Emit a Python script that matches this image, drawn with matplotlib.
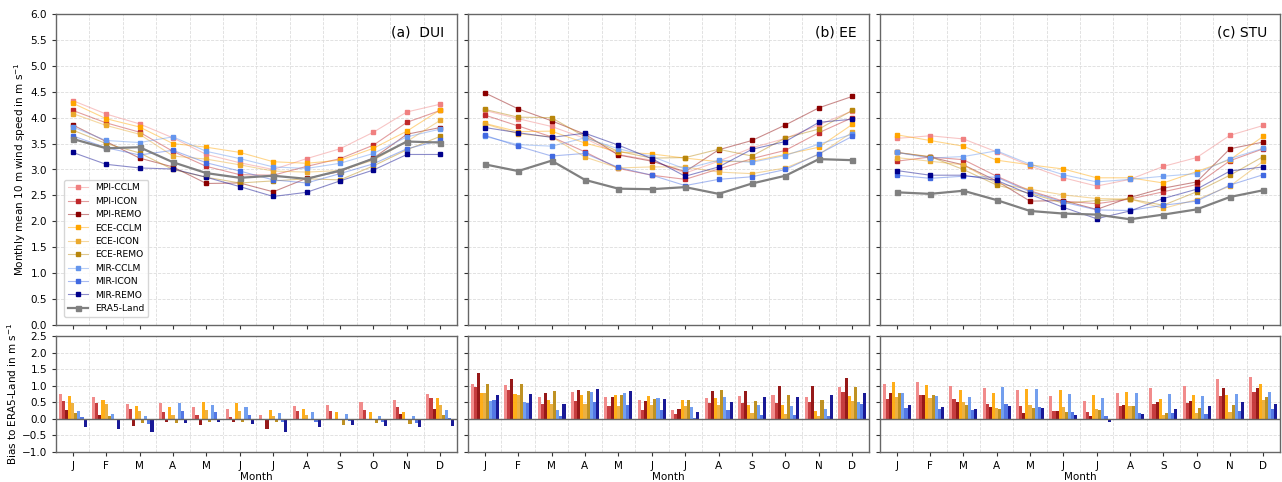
import numpy as np
import matplotlib
matplotlib.use("Agg")
import matplotlib.pyplot as plt
from matplotlib.colors import to_rgba

# month labels and simulations
months = ["J", "F", "M", "A", "M", "J", "J", "A", "S", "O", "N", "D"]
models = ["MPI-CCLM", "MPI-ICON", "MPI-REMO",
          "ECE-CCLM", "ECE-ICON", "ECE-REMO",
          "MIR-CCLM", "MIR-ICON", "MIR-REMO"]
colors = ["#f08080", "#c0282a", "#8b0000",
          "#ffa500", "#eaa92e", "#b8860b",
          "#6495ed", "#4169e1", "#00008b"]
sites = ["(a)  DUI", "(b) EE", "(c) STU"]

# ERA5-Land monthly mean 10 m wind speed (m/s)
era5_dui = [3.59, 3.41, 3.43, 3.14, 2.93, 2.84, 2.88, 2.82, 2.98, 3.21, 3.54, 3.52]
era5_ee = [3.10, 2.97, 3.17, 2.80, 2.63, 2.62, 2.66, 2.53, 2.73, 2.88, 3.20, 3.18]
era5_stu = [2.56, 2.53, 2.59, 2.41, 2.20, 2.15, 2.13, 2.04, 2.13, 2.23, 2.47, 2.60]

# bias of each simulation to ERA5-Land (rows follow "models")
bias_dui = [
    [0.74, 0.66, 0.45, 0.47, 0.36, 0.29, 0.12, 0.39, 0.42, 0.51, 0.57, 0.74],
    [0.55, 0.49, 0.29, 0.21, 0.13, 0.06, 0.01, 0.24, 0.23, 0.26, 0.37, 0.62],
    [0.27, 0.13, -0.21, -0.09, -0.20, -0.10, -0.31, 0.01, -0.02, 0.01, 0.14, 0.29],
    [0.69, 0.57, 0.39, 0.36, 0.50, 0.49, 0.27, 0.30, 0.20, 0.20, 0.20, 0.63],
    [0.49, 0.44, 0.25, 0.12, 0.27, 0.25, 0.09, 0.13, 0.00, -0.03, 0.00, 0.43],
    [0.17, 0.09, -0.11, -0.14, -0.08, -0.10, -0.10, 0.00, -0.18, -0.14, -0.16, 0.12],
    [0.23, 0.15, 0.09, 0.49, 0.42, 0.37, 0.17, 0.20, 0.14, 0.10, 0.09, 0.26],
    [0.06, 0.01, -0.15, 0.23, 0.20, 0.13, -0.08, -0.08, -0.06, -0.10, -0.14, 0.04],
    [-0.26, -0.31, -0.40, -0.13, -0.08, -0.17, -0.40, -0.26, -0.20, -0.22, -0.25, -0.23],
]
bias_ee = [
    [1.04, 1.01, 0.66, 0.80, 0.66, 0.56, 0.27, 0.63, 0.69, 0.72, 0.66, 0.95],
    [0.95, 0.87, 0.46, 0.54, 0.39, 0.27, 0.15, 0.48, 0.48, 0.49, 0.51, 0.82],
    [1.38, 1.20, 0.77, 0.88, 0.65, 0.54, 0.30, 0.85, 0.83, 0.98, 0.99, 1.23],
    [0.79, 0.76, 0.57, 0.71, 0.71, 0.68, 0.56, 0.62, 0.43, 0.41, 0.23, 0.69],
    [0.78, 0.72, 0.46, 0.44, 0.40, 0.43, 0.39, 0.42, 0.19, 0.15, 0.09, 0.54],
    [1.06, 1.04, 0.83, 0.83, 0.72, 0.60, 0.57, 0.86, 0.53, 0.73, 0.58, 0.96],
    [0.54, 0.51, 0.28, 0.81, 0.77, 0.63, 0.35, 0.65, 0.41, 0.39, 0.29, 0.50],
    [0.56, 0.48, 0.09, 0.51, 0.41, 0.27, 0.03, 0.28, 0.13, 0.12, 0.10, 0.46],
    [0.71, 0.74, 0.45, 0.90, 0.84, 0.59, 0.21, 0.52, 0.66, 0.66, 0.71, 0.79],
]
bias_stu = [
    [1.04, 1.12, 1.00, 0.93, 0.87, 0.69, 0.55, 0.77, 0.93, 1.00, 1.19, 1.25],
    [0.60, 0.71, 0.60, 0.46, 0.39, 0.24, 0.21, 0.39, 0.44, 0.48, 0.70, 0.80],
    [0.77, 0.71, 0.50, 0.37, 0.19, 0.25, 0.10, 0.42, 0.51, 0.53, 0.93, 0.93],
    [1.11, 1.03, 0.86, 0.77, 0.89, 0.86, 0.71, 0.80, 0.61, 0.73, 0.72, 1.04],
    [0.67, 0.63, 0.50, 0.32, 0.42, 0.36, 0.31, 0.39, 0.12, 0.19, 0.21, 0.56],
    [0.77, 0.72, 0.41, 0.29, 0.34, 0.20, 0.27, 0.39, 0.18, 0.34, 0.42, 0.65],
    [0.77, 0.69, 0.66, 0.95, 0.90, 0.75, 0.63, 0.77, 0.74, 0.69, 0.74, 0.81],
    [0.33, 0.30, 0.28, 0.44, 0.37, 0.22, 0.09, 0.17, 0.18, 0.16, 0.23, 0.30],
    [0.42, 0.36, 0.30, 0.38, 0.32, 0.12, -0.08, 0.16, 0.31, 0.39, 0.50, 0.45],
]

era5_all = [era5_dui, era5_ee, era5_stu]
bias_all = [bias_dui, bias_ee, bias_stu]

W, H = 1282, 482
fig = plt.figure(figsize=(W / 100, H / 100), dpi=100)

# panel placement in pixels: left, right
cols = [(56, 457), (468, 869), (880, 1280)]
top_box = (14, 325)
bot_box = (336, 452)

spine_col = "#666666"
x = np.arange(12)
bar_w = 0.093


def style_axis(ax):
    for s in ax.spines.values():
        s.set_color(spine_col)
        s.set_linewidth(1.0)
    ax.tick_params(axis="both", colors="#333333", labelsize=7.5, length=3, width=0.8,
                   labelcolor="black")
    ax.set_xlim(-0.5, 11.5)
    ax.set_xticks(x)
    ax.set_xticks(np.arange(-0.5, 12, 1), minor=True)
    ax.tick_params(axis="x", which="minor", length=0)
    ax.grid(True, axis="y", which="major", color="#dddddd", linestyle="--", linewidth=0.6)
    ax.grid(True, axis="x", which="minor", color="#dddddd", linestyle="--", linewidth=0.6)
    ax.set_axisbelow(True)


for i in range(3):
    l, r = cols[i]
    ax1 = fig.add_axes([l / W, (H - top_box[1]) / H, (r - l) / W, (top_box[1] - top_box[0]) / H])
    ax2 = fig.add_axes([l / W, (H - bot_box[1]) / H, (r - l) / W, (bot_box[1] - bot_box[0]) / H])
    style_axis(ax1)
    style_axis(ax2)

    era5 = np.array(era5_all[i])
    bias = np.array(bias_all[i])

    # monthly mean wind speed
    for m in range(9):
        ax1.plot(x, era5 + bias[m], color=to_rgba(colors[m], 0.45), linewidth=0.8,
                 marker="s", markersize=2.2, markerfacecolor=colors[m],
                 markeredgecolor=colors[m], label=models[m])
    ax1.plot(x, era5, color="grey", linewidth=1.6, marker="s", markersize=3.6,
             label="ERA5-Land")
    ax1.set_ylim(0, 6)
    ax1.set_yticks(np.arange(0, 6.01, 0.5))
    ax1.set_xticklabels([])
    ax1.text(0.969, 0.939, sites[i], transform=ax1.transAxes, ha="right", va="center",
             fontsize=10)

    # bias bars
    for m in range(9):
        ax2.bar(x + (m - 4) * bar_w, bias[m], width=bar_w, color=colors[m], alpha=0.9,
                linewidth=0)
    ax2.axhline(0, color=spine_col, linewidth=1.0)
    ax2.set_ylim(-1, 2.5)
    ax2.set_yticks(np.arange(-1, 2.51, 0.5))
    ax2.set_xticklabels(months, fontsize=7.5)
    ax2.set_xlabel("Month", fontsize=7.5, labelpad=1)

    if i == 0:
        ax1.set_ylabel("Monthly mean 10 m wind speed in m s$^{-1}$", fontsize=7.5, labelpad=2)
        ax2.set_ylabel("Bias to ERA5-Land in m s$^{-1}$", fontsize=7.5, labelpad=2)
        ax1.legend(loc="lower left", fontsize=6.6, borderaxespad=0.9, labelspacing=0.48,
                   handlelength=2.2, framealpha=0.8, edgecolor="#cccccc")
    else:
        ax1.set_yticklabels([])
        ax2.set_yticklabels([])

fig.savefig("out.png", dpi=100)
